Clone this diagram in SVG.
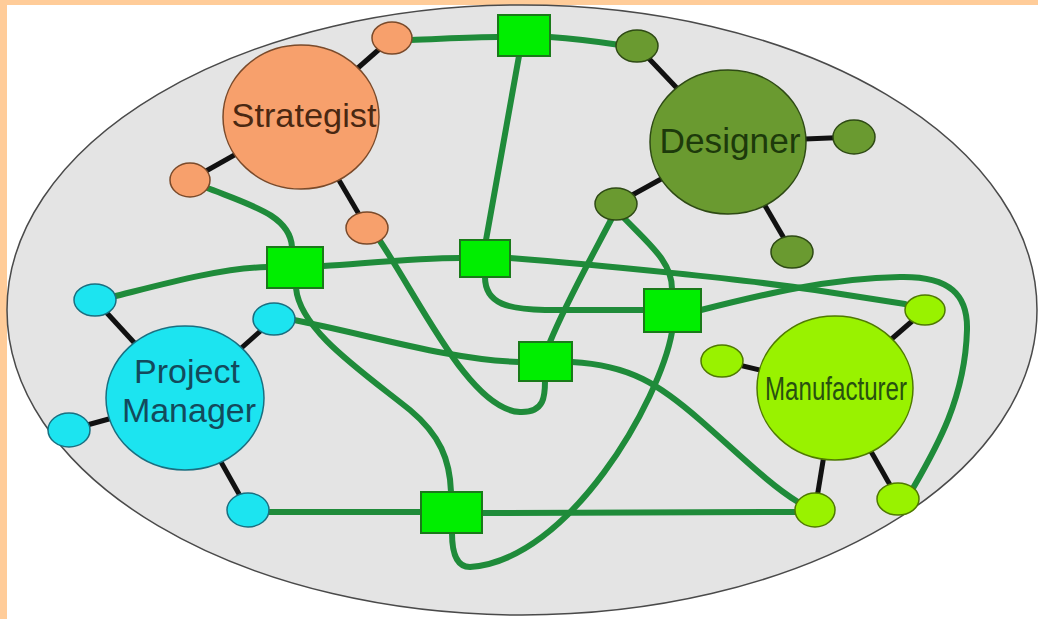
<svg xmlns="http://www.w3.org/2000/svg" width="1038" height="619" viewBox="0 0 1038 619">
<style>
.conn{fill:none;stroke:#1F8B3A;stroke-width:6;stroke-linecap:round}
.spoke{stroke:#111;stroke-width:5}
.sq{fill:#00EE00;stroke:#1A7A1A;stroke-width:2}
.lbl{font-family:"Liberation Sans",Arial,sans-serif;text-anchor:middle}
.st{fill:#F7A06C;stroke:#7A4A2A;stroke-width:1.5}
.de{fill:#6A9A30;stroke:#2E4A14;stroke-width:1.5}
.pm{fill:#1CE4F0;stroke:#1A6F80;stroke-width:1.5}
.mf{fill:#99F200;stroke:#4F7A00;stroke-width:1.5}
</style>
<rect x="0" y="0" width="1038" height="619" fill="#FFCC99"/>
<rect x="7" y="5" width="1031" height="614" fill="#FFFFFF"/>
<ellipse id="boundary" cx="522" cy="310" rx="515" ry="305" fill="#E4E4E4" stroke="#4A4A4A" stroke-width="1.5"/>

<g id="connectors">
  <path class="conn" d="M410,40 C440,39 470,37 498,37"/>
  <path class="conn" d="M550,37 C580,39 600,42 620,45"/>
  <path class="conn" d="M519,56 L486,240"/>
  <path class="conn" d="M205,187 C250,205 290,215 292,247"/>
  <path class="conn" d="M378,238 C420,300 470,410 520,412 C545,413 545,395 545,381"/>
  <path class="conn" d="M112,297 C160,285 220,268 267,267"/>
  <path class="conn" d="M323,266 C380,262 420,258 460,258"/>
  <path class="conn" d="M510,258 C600,265 750,280 815,290 C860,297 885,301 905,304"/>
  <path class="conn" d="M612,218 C590,260 565,305 550,342"/>
  <path class="conn" d="M624,218 C650,245 672,262 672,289"/>
  <path class="conn" d="M672,332 C660,400 570,560 470,567 C455,567 452,550 452,533"/>
  <path class="conn" d="M296,288 C300,330 360,370 410,410 C440,435 450,460 451,492"/>
  <path class="conn" d="M294,320 C370,335 450,360 519,362"/>
  <path class="conn" d="M572,362 C630,365 660,385 700,420 C740,455 770,485 798,502"/>
  <path class="conn" d="M268,512 L421,512"/>
  <path class="conn" d="M482,513 L796,512"/>
  <path class="conn" d="M485,277 C485,305 510,309 545,310 L644,310"/>
  <path class="conn" d="M701,310 C760,295 830,278 900,277 C950,276 968,295 967,330 C965,400 935,450 912,490"/>
</g>

<g id="strategist">
  <line class="spoke" x1="302" y1="117" x2="392" y2="38"/>
  <line class="spoke" x1="302" y1="117" x2="190" y2="180"/>
  <line class="spoke" x1="302" y1="117" x2="367" y2="228"/>
  <ellipse class="st" cx="301" cy="117" rx="78" ry="72"/>
  <ellipse class="st" cx="392" cy="38" rx="20" ry="16"/>
  <ellipse class="st" cx="190" cy="180" rx="20" ry="17"/>
  <ellipse class="st" cx="367" cy="228" rx="21" ry="16"/>
  <text class="lbl" x="304" y="127" font-size="33" fill="#4A2812" textLength="145" lengthAdjust="spacingAndGlyphs">Strategist</text>
</g>

<g id="designer">
  <line class="spoke" x1="728" y1="142" x2="637" y2="46"/>
  <line class="spoke" x1="728" y1="142" x2="854" y2="137"/>
  <line class="spoke" x1="728" y1="142" x2="616" y2="204"/>
  <line class="spoke" x1="728" y1="142" x2="792" y2="252"/>
  <ellipse class="de" cx="728" cy="142" rx="78" ry="72"/>
  <ellipse class="de" cx="637" cy="46" rx="21" ry="16"/>
  <ellipse class="de" cx="854" cy="137" rx="21" ry="17"/>
  <ellipse class="de" cx="616" cy="204" rx="21" ry="16"/>
  <ellipse class="de" cx="792" cy="252" rx="21" ry="16"/>
  <text class="lbl" x="730" y="153" font-size="35" fill="#1D3A0B" textLength="141" lengthAdjust="spacingAndGlyphs">Designer</text>
</g>

<g id="project-manager">
  <line class="spoke" x1="185" y1="398" x2="95" y2="300"/>
  <line class="spoke" x1="185" y1="398" x2="274" y2="319"/>
  <line class="spoke" x1="185" y1="398" x2="69" y2="430"/>
  <line class="spoke" x1="185" y1="398" x2="248" y2="510"/>
  <ellipse class="pm" cx="185" cy="398" rx="79" ry="72"/>
  <ellipse class="pm" cx="95" cy="300" rx="21" ry="16"/>
  <ellipse class="pm" cx="274" cy="319" rx="21" ry="16"/>
  <ellipse class="pm" cx="69" cy="430" rx="21" ry="17"/>
  <ellipse class="pm" cx="248" cy="510" rx="21" ry="17"/>
  <text class="lbl" font-size="34" fill="#134A5C"><tspan x="187" y="383">Project</tspan><tspan x="189" y="422">Manager</tspan></text>
</g>

<g id="manufacturer">
  <line class="spoke" x1="835" y1="388" x2="925" y2="310"/>
  <line class="spoke" x1="835" y1="388" x2="722" y2="361"/>
  <line class="spoke" x1="835" y1="388" x2="815" y2="510"/>
  <line class="spoke" x1="835" y1="388" x2="898" y2="499"/>
  <ellipse class="mf" cx="835" cy="388" rx="78" ry="72"/>
  <ellipse class="mf" cx="925" cy="310" rx="20" ry="15"/>
  <ellipse class="mf" cx="722" cy="361" rx="21" ry="16"/>
  <ellipse class="mf" cx="815" cy="510" rx="20" ry="17"/>
  <ellipse class="mf" cx="898" cy="499" rx="21" ry="16"/>
  <text class="lbl" x="836" y="400" font-size="33" fill="#285010" textLength="142" lengthAdjust="spacingAndGlyphs">Manufacturer</text>
</g>

<g id="hub-top"><rect class="sq" x="498" y="15" width="52" height="41"/></g>
<g id="hub-1"><rect class="sq" x="267" y="247" width="56" height="41"/></g>
<g id="hub-2"><rect class="sq" x="460" y="240" width="50" height="37"/></g>
<g id="hub-3"><rect class="sq" x="644" y="289" width="57" height="43"/></g>
<g id="hub-4"><rect class="sq" x="519" y="342" width="53" height="39"/></g>
<g id="hub-5"><rect class="sq" x="421" y="492" width="61" height="41"/></g>
</svg>
